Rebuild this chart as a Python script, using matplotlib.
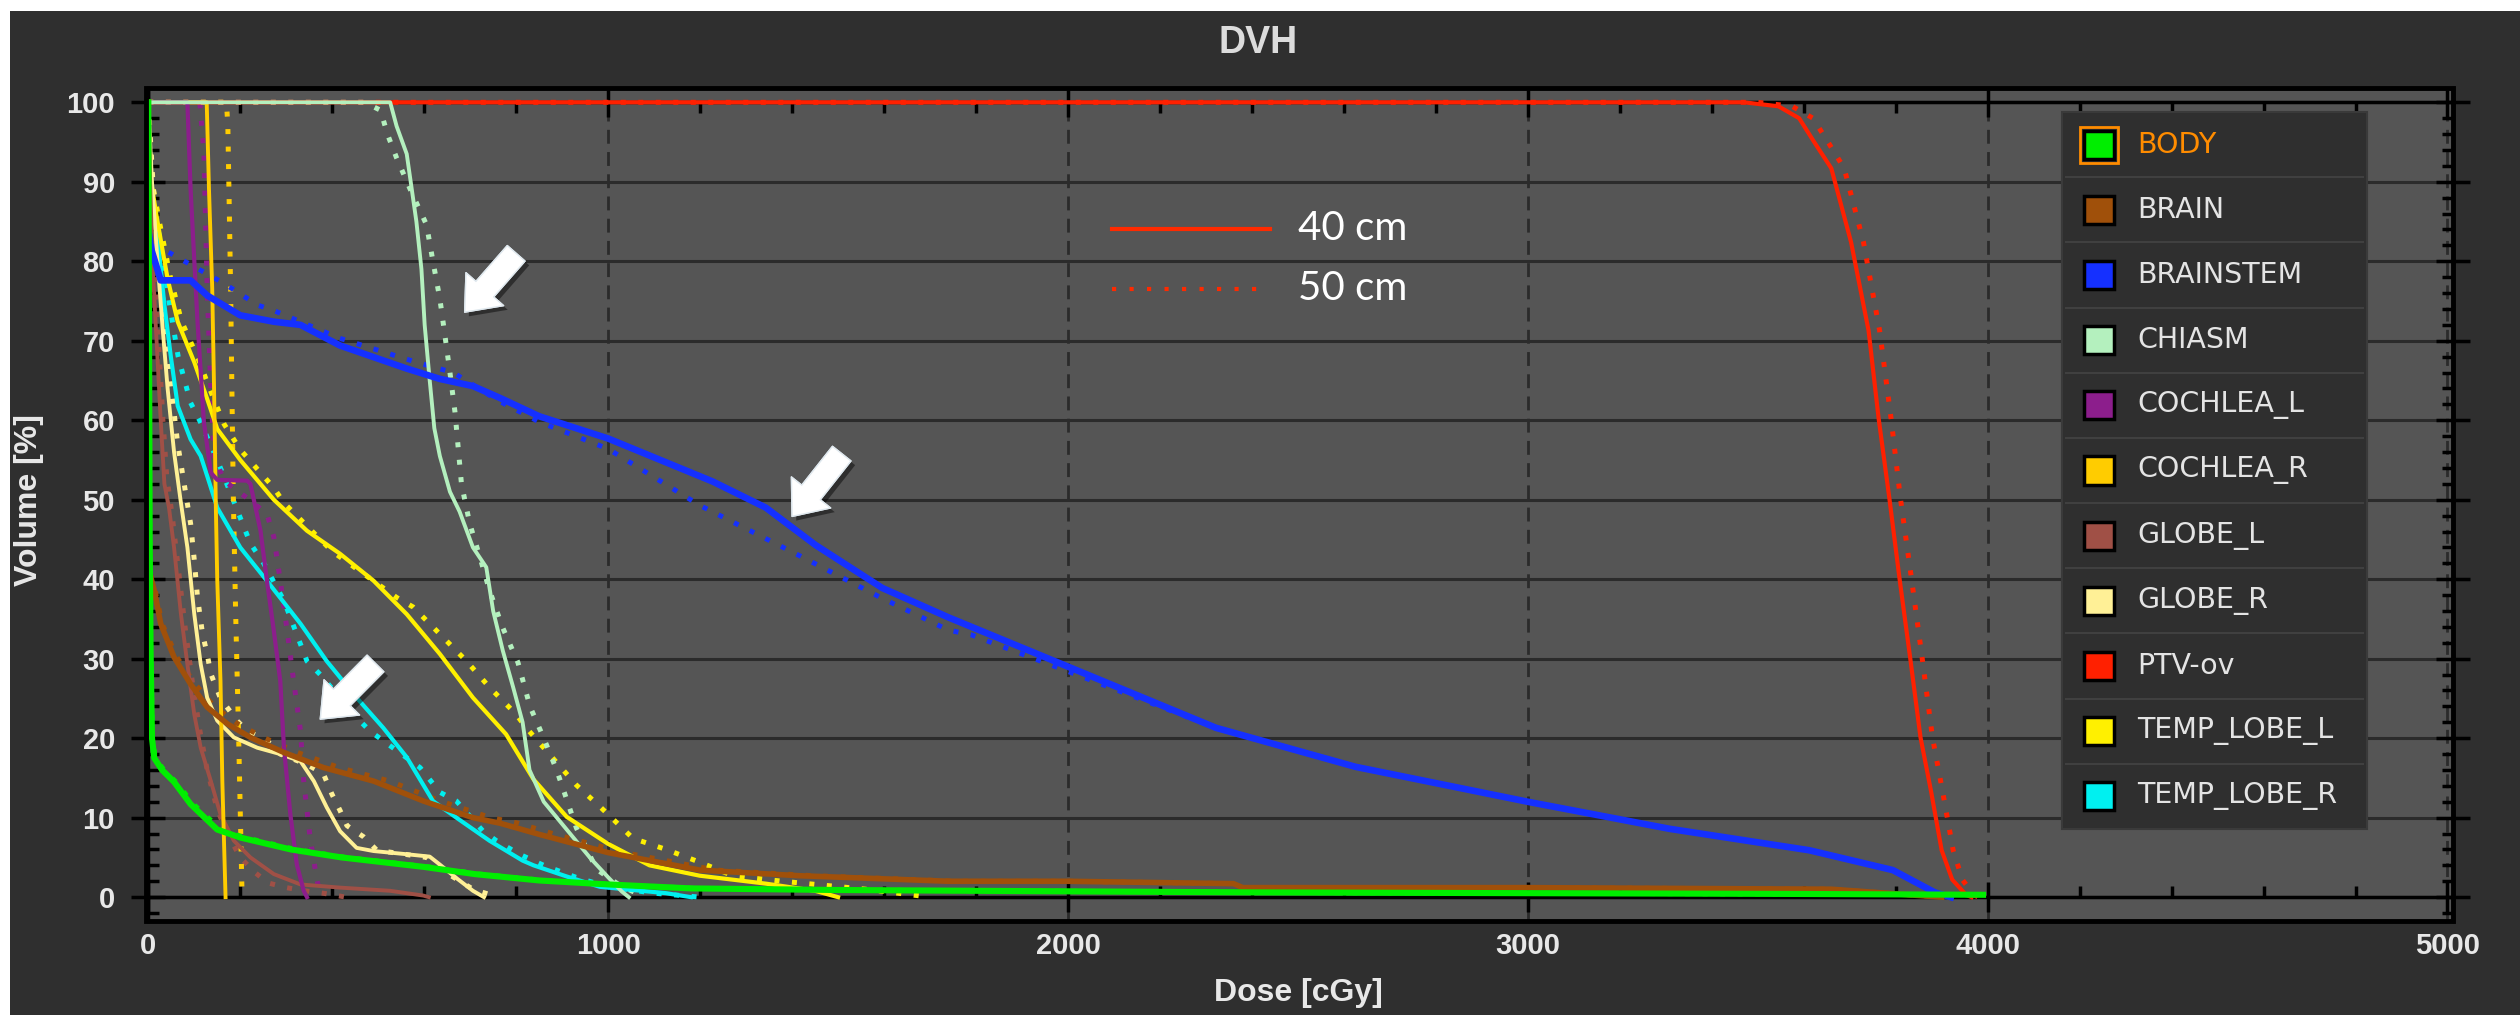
import matplotlib
matplotlib.use("Agg")
import matplotlib.pyplot as plt
from matplotlib.patches import Rectangle
from matplotlib.lines import Line2D
from matplotlib.ticker import MultipleLocator
import matplotlib.patheffects as pe

# ---------------- data (dose in cGy, volume in %) ----------------
structures = ["BODY", "BRAIN", "BRAINSTEM", "CHIASM", "COCHLEA_L", "COCHLEA_R",
              "GLOBE_L", "GLOBE_R", "PTV-ov", "TEMP_LOBE_L", "TEMP_LOBE_R"]
colors = ["#00ee00", "#a0500a", "#1530ff", "#b4f0be", "#8c1e8c", "#ffcc00",
          "#a05046", "#fff096", "#ff2000", "#fff000", "#00f0f0"]
linewidths = [4.4, 4.0, 4.8, 2.8, 3.0, 2.8, 2.8, 2.8, 3.0, 3.0, 3.0]

BODY_D40 = [0, 3, 5, 8, 13, 30, 56, 92, 150, 200, 310, 420, 600, 710, 850, 1000, 1180, 1500, 1800, 2400, 3000, 3600, 3990]
BODY_V40 = [100, 45, 31, 20, 17.5, 16, 14.5, 11.7, 8.5, 7.5, 6, 5, 3.8, 2.9, 2.1, 1.6, 1.1, 0.9, 0.8, 0.6, 0.5, 0.4, 0.3]
BODY_D50 = [0, 3, 5, 9, 15, 34, 60, 98, 158, 210, 320, 430, 610, 720, 860, 1010, 1190, 1510, 1810, 2400, 3000, 3600, 3990]
BODY_V50 = [100, 45, 31, 20, 17.5, 16, 14.5, 11.7, 8.5, 7.5, 6, 5, 3.8, 2.9, 2.1, 1.6, 1.1, 0.9, 0.8, 0.6, 0.5, 0.4, 0.3]

BRAIN_D40 = [0, 2, 13, 27, 56, 92, 128, 172, 222, 295, 381, 490, 598, 706, 765, 850, 1000, 1200, 1415, 1740, 2000, 2360, 2380, 3000, 3660, 3900]
BRAIN_V40 = [100, 41, 38.6, 34.4, 30.2, 26.8, 23.9, 21.8, 20.1, 18.2, 16.3, 14.6, 12.1, 10.0, 9.3, 7.9, 5.6, 3.4, 2.7, 2.0, 2.0, 1.7, 1.2, 1.2, 1.0, 0]
BRAIN_D50 = [0, 2, 15, 30, 62, 102, 145, 195, 250, 325, 415, 525, 635, 745, 805, 885, 1035, 1235, 1445, 1760, 2000, 2360, 2380, 3000, 3660, 3900]
BRAIN_V50 = [100, 41, 38.6, 34.4, 30.2, 26.8, 23.9, 21.8, 20.1, 18.2, 16.3, 14.6, 12.1, 10.0, 9.3, 7.9, 5.6, 3.4, 2.7, 2.0, 2.0, 1.7, 1.2, 1.2, 1.0, 0]

BRAINSTEM_D40 = [0, 6, 27, 92, 128, 200, 273, 331, 417, 562, 634, 706, 765, 850, 1000, 1227, 1343, 1451, 1596, 1740, 2000, 2322, 2625, 3000, 3308, 3612, 3794, 3885, 3920]
BRAINSTEM_V40 = [84, 81.6, 77.6, 77.6, 75.7, 73.2, 72.4, 72, 69.4, 66.5, 65.2, 64.3, 62.8, 60.5, 57.7, 52.3, 49, 44.3, 38.9, 35.2, 29, 21.3, 16.4, 12.0, 8.6, 5.9, 3.4, 0.6, 0]
BRAINSTEM_D50 = [0, 6, 42, 165, 237, 273, 417, 583, 663, 760, 850, 1000, 1199, 1415, 1596, 1740, 1790, 2000, 2322, 2625, 3000, 3308, 3612, 3794, 3885, 3930]
BRAINSTEM_V50 = [84, 82, 81.2, 77.2, 74.5, 73.8, 70.3, 67.3, 66, 62.5, 59.8, 56.4, 49.3, 43, 37.6, 33.6, 33, 28.4, 21.3, 16.4, 12.0, 8.6, 5.9, 3.4, 0.6, 0]

CHIASM_D40 = [0, 526, 540, 562, 583, 594, 601, 612, 622, 634, 656, 677, 706, 735, 750, 771, 793, 814, 829, 860, 910, 960, 1000, 1030, 1045]
CHIASM_V40 = [100, 100, 97, 93.5, 85, 79, 72, 65, 59, 55.5, 51, 48.5, 44, 41.5, 36, 31, 26.5, 22, 16, 12, 8.5, 5, 2.5, 0.7, 0]
CHIASM_D50 = [0, 470, 505, 520, 540, 570, 605, 619, 634, 645, 656, 667, 681, 699, 721, 742, 770, 804, 830, 860, 888, 931, 975, 1025, 1080]
CHIASM_V50 = [100, 100, 99, 96, 93, 89, 84.6, 80, 75.3, 70.7, 66, 61, 52, 47, 42.8, 38.6, 34, 29.5, 24, 20, 16, 8.7, 3.5, 1.5, 0]

COCHLEA_L_D40 = [0, 85, 92, 107, 121, 136, 150, 215, 222, 244, 258, 273, 287, 295, 309, 323, 338, 345]
COCHLEA_L_V40 = [100, 100, 89, 72.4, 59.7, 53.4, 52.5, 52.4, 52, 46.1, 39.8, 33.5, 27.2, 18.8, 10.4, 4.1, 0.8, 0]
COCHLEA_L_D50 = [0, 112, 121, 128, 136, 143, 165, 222, 258, 273, 287, 302, 316, 331, 338, 352, 367, 375]
COCHLEA_L_V50 = [100, 100, 93.5, 76.6, 64, 55.5, 52.4, 49.9, 48.2, 45.3, 39.8, 33.5, 27.2, 20.9, 14.6, 7.4, 2.1, 0]

COCHLEA_R_D40 = [0, 127, 132, 139, 143, 147, 150, 157, 161, 168]
COCHLEA_R_V40 = [100, 100, 89, 76.6, 64, 48.7, 39.8, 27.2, 14.6, 0]
COCHLEA_R_D50 = [0, 170, 173, 176, 179, 182, 185, 190, 197, 204]
COCHLEA_R_V50 = [100, 100, 97, 87, 76.6, 63, 50, 35.6, 18.8, 0]

GLOBE_L_D40 = [0, 4, 9, 18, 27, 35, 45, 56, 71, 85, 100, 114, 136, 157, 186, 222, 273, 331, 417, 526, 598, 610]
GLOBE_L_V40 = [100, 90, 80, 70, 60, 52, 49, 44, 35.6, 29.3, 23, 18.8, 14.6, 10.4, 7.1, 5, 2.9, 1.6, 1.2, 0.8, 0.2, 0]
GLOBE_L_D50 = [0, 5, 11, 22, 32, 40, 52, 64, 80, 96, 112, 128, 150, 172, 200, 230, 260, 300, 340, 380, 430]
GLOBE_L_V50 = [100, 90, 80, 70, 60, 53, 48, 42, 34, 27, 21, 16, 11, 8, 5, 3.2, 1.8, 1.2, 0.8, 0.5, 0]

GLOBE_R_D40 = [0, 8, 20, 32, 42, 56, 70, 85, 100, 114, 128, 150, 186, 237, 287, 331, 360, 388, 417, 453, 490, 562, 612, 634, 670, 706, 730]
GLOBE_R_V40 = [100, 90, 80, 71, 64, 56, 50, 44, 35.6, 29.3, 25.1, 22.2, 20.1, 18.8, 18, 17.1, 14.6, 11.3, 8.3, 6.2, 5.8, 5.4, 5.1, 4.1, 2.4, 0.8, 0]
GLOBE_R_D50 = [0, 10, 24, 38, 50, 64, 78, 92, 100, 107, 118, 128, 136, 157, 193, 215, 258, 287, 345, 381, 399, 417, 432, 468, 497, 605, 650, 706, 760]
GLOBE_R_V50 = [100, 90, 80, 71, 64, 57, 52, 47, 42.4, 37.7, 33.1, 30.6, 28.1, 25, 22.2, 20.9, 19.7, 18, 16.7, 15.5, 13, 10.9, 9, 7.6, 5.9, 5, 3, 1, 0]

PTV_D40 = [0, 3470, 3545, 3590, 3625, 3660, 3703, 3741, 3763, 3786, 3809, 3832, 3854, 3877, 3900, 3923, 3953, 3965]
PTV_V40 = [100, 100, 99.5, 98, 94.8, 91.7, 82.4, 71.3, 60.2, 50.3, 39.8, 29.9, 20.1, 13.3, 5.9, 2.2, 0.3, 0]
PTV_D50 = [0, 3500, 3575, 3620, 3655, 3688, 3730, 3765, 3790, 3810, 3835, 3858, 3880, 3902, 3925, 3945, 3970, 3980]
PTV_V50 = [100, 100, 99.5, 98, 94.8, 91.7, 82.4, 71.3, 60.2, 50.3, 39.8, 29.9, 20.1, 13.3, 5.9, 2.2, 0.3, 0]

TEMP_LOBE_L_D40 = [0, 2, 6, 20, 42, 64, 100, 128, 150, 200, 273, 345, 417, 490, 562, 634, 706, 778, 838, 910, 1000, 1090, 1199, 1343, 1450, 1500]
TEMP_LOBE_L_V40 = [100, 96, 90, 85, 77.8, 72.4, 67.3, 62.7, 58.9, 55, 50, 46.1, 43.2, 39.8, 35.6, 30.6, 25.1, 20.5, 14.8, 10.1, 6.7, 4, 2.7, 1.7, 0.8, 0]
TEMP_LOBE_L_D50 = [0, 3, 8, 24, 48, 72, 110, 140, 165, 200, 244, 273, 295, 400, 540, 576, 634, 692, 742, 800, 822, 881, 931, 982, 1054, 1126, 1199, 1271, 1379, 1560, 1700]
TEMP_LOBE_L_V50 = [100, 96, 90, 85, 78, 72.5, 67.5, 63, 59.5, 56.3, 53.4, 51.5, 49.6, 43.5, 37.7, 36.5, 33.1, 29.7, 26.4, 23, 21.3, 17.4, 14.1, 11.4, 7.4, 6, 4.4, 2.7, 2, 1, 0]

TEMP_LOBE_R_D40 = [0, 6, 20, 35, 49, 64, 92, 114, 128, 150, 200, 258, 331, 388, 453, 511, 562, 619, 670, 742, 814, 838, 910, 982, 1126, 1180]
TEMP_LOBE_R_V40 = [88, 87, 83, 74.5, 68, 61.8, 57.6, 55.5, 53, 49, 44, 39.8, 34.4, 29.7, 25.1, 21.3, 17.6, 12.1, 10, 7.1, 4.6, 4.0, 2.6, 1.3, 0.5, 0]
TEMP_LOBE_R_D50 = [0, 8, 25, 45, 65, 92, 114, 150, 179, 222, 251, 295, 345, 374, 453, 482, 591, 634, 670, 728, 757, 807, 860, 930, 1000, 1100, 1200]
TEMP_LOBE_R_V50 = [88, 87, 83, 75, 68, 62.2, 59.7, 55, 50.8, 44.5, 42, 37.3, 29.7, 28, 22.6, 20.9, 16.3, 13.2, 12.1, 8.3, 7.1, 5.4, 4, 2.5, 1.3, 0.5, 0]

curves_40 = {
    "BODY": (BODY_D40, BODY_V40), "BRAIN": (BRAIN_D40, BRAIN_V40),
    "BRAINSTEM": (BRAINSTEM_D40, BRAINSTEM_V40), "CHIASM": (CHIASM_D40, CHIASM_V40),
    "COCHLEA_L": (COCHLEA_L_D40, COCHLEA_L_V40), "COCHLEA_R": (COCHLEA_R_D40, COCHLEA_R_V40),
    "GLOBE_L": (GLOBE_L_D40, GLOBE_L_V40), "GLOBE_R": (GLOBE_R_D40, GLOBE_R_V40),
    "PTV-ov": (PTV_D40, PTV_V40), "TEMP_LOBE_L": (TEMP_LOBE_L_D40, TEMP_LOBE_L_V40),
    "TEMP_LOBE_R": (TEMP_LOBE_R_D40, TEMP_LOBE_R_V40),
}
curves_50 = {
    "BODY": (BODY_D50, BODY_V50), "BRAIN": (BRAIN_D50, BRAIN_V50),
    "BRAINSTEM": (BRAINSTEM_D50, BRAINSTEM_V50), "CHIASM": (CHIASM_D50, CHIASM_V50),
    "COCHLEA_L": (COCHLEA_L_D50, COCHLEA_L_V50), "COCHLEA_R": (COCHLEA_R_D50, COCHLEA_R_V50),
    "GLOBE_L": (GLOBE_L_D50, GLOBE_L_V50), "GLOBE_R": (GLOBE_R_D50, GLOBE_R_V50),
    "PTV-ov": (PTV_D50, PTV_V50), "TEMP_LOBE_L": (TEMP_LOBE_L_D50, TEMP_LOBE_L_V50),
    "TEMP_LOBE_R": (TEMP_LOBE_R_D50, TEMP_LOBE_R_V50),
}
draw_order = ["PTV-ov", "TEMP_LOBE_R", "TEMP_LOBE_L", "GLOBE_R", "GLOBE_L", "COCHLEA_R",
              "COCHLEA_L", "CHIASM", "BRAINSTEM", "BRAIN", "BODY"]

# arrows: (tail dose, tail vol) -> (head dose, head vol)
arrow_tails = [(800, 81.0), (1508, 55.8), (494, 29.4)]
arrow_heads = [(688, 73.6), (1400, 47.9), (374, 22.4)]

x_ticks = [0, 1000, 2000, 3000, 4000, 5000]
y_ticks = [0, 10, 20, 30, 40, 50, 60, 70, 80, 90, 100]

# ---------------- figure ----------------
W, H = 2520, 1015
def fx(px):
    return px / W
def fy(py):
    return 1 - py / H

fig = plt.figure(figsize=(25.2, 10.15), dpi=100, facecolor="white")
fig.add_artist(Rectangle((fx(10), 0), 1 - fx(10), fy(11), transform=fig.transFigure,
                         facecolor="#2f2f2f", edgecolor="none", zorder=-5))

ax = fig.add_axes([fx(146), fy(921), fx(2453) - fx(146), fy(88) - fy(921)])
ax.set_facecolor("#555555")
ax.set_xlim(-5, 5012)
ax.set_ylim(-3.0, 101.8)

ax.xaxis.set_major_locator(MultipleLocator(1000))
ax.xaxis.set_minor_locator(MultipleLocator(200))
ax.yaxis.set_major_locator(MultipleLocator(10))
ax.yaxis.set_minor_locator(MultipleLocator(2))
ax.set_xticks(x_ticks)
ax.set_yticks(y_ticks)

ax.set_axisbelow(True)
ax.grid(which="major", axis="y", color="#2b2b2b", lw=2.2, ls="-")
ax.grid(which="major", axis="x", color="#2b2b2b", lw=2.0, ls=(0, (5, 3)))

for name in ["left", "right", "top", "bottom"]:
    ax.spines[name].set_color("black")
    ax.spines[name].set_linewidth(2.5)
ax.spines["bottom"].set_position(("data", 0))
ax.spines["top"].set_position(("data", 100))
ax.spines["left"].set_position(("data", 0))
ax.add_patch(Rectangle((0, 0), 1, 1, transform=ax.transAxes, fill=False,
                       edgecolor="black", lw=3.5, zorder=6, clip_on=False))

ax.tick_params(axis="x", which="major", direction="inout", length=22, width=2.5,
               color="black", top=True, bottom=True, labelsize=21,
               labelcolor="#e8e8e8", pad=14)
ax.tick_params(axis="x", which="minor", direction="in", length=8, width=2.5,
               color="black", top=True, bottom=True)
ax.tick_params(axis="y", which="major", direction="inout", length=24, width=2.5,
               color="black", left=True, right=True, labelsize=21,
               labelcolor="#e8e8e8", pad=12)
ax.tick_params(axis="y", which="minor", direction="in", length=8, width=2.5,
               color="black", left=True, right=True)
for lab in ax.get_xticklabels() + ax.get_yticklabels():
    lab.set_fontfamily("Liberation Sans")
    lab.set_fontweight("bold")

# curves
for name in draw_order:
    i = structures.index(name)
    c = colors[i]
    lw = linewidths[i]
    d50, v50 = curves_50[name]
    d40, v40 = curves_40[name]
    ax.plot(d50, v50, color=c, lw=3.6, ls=(0, (1, 2.5)), dash_capstyle="butt", zorder=3)
    ax.plot(d40, v40, color=c, lw=lw, ls="-", zorder=3.1, solid_joinstyle="round")

# arrows
for (tx, ty), (hx, hy) in zip(arrow_tails, arrow_heads):
    ax.annotate("", xy=(hx, hy), xytext=(tx, ty),
                arrowprops=dict(arrowstyle="simple,head_length=1.1,head_width=1.8,tail_width=0.85",
                                fc="white", ec="#dfe8ee", lw=1, mutation_scale=20,
                                shrinkA=0, shrinkB=0,
                                path_effects=[pe.withSimplePatchShadow(offset=(3, -3), shadow_rgbFace="black", alpha=0.45),
                                              pe.Normal()]),
                zorder=7)

# title and axis labels
fig.text(fx(1258), fy(43), "DVH", ha="center", va="center", fontsize=27,
         fontweight="bold", color="#dcdcdc", family="Liberation Sans")
fig.text(fx(29), fy(500), "Volume [%]", ha="center", va="center", rotation=90,
         fontsize=23, fontweight="bold", color="#e8e8e8", family="Liberation Sans")
fig.text(fx(1298), fy(993), "Dose [cGy]", ha="center", va="center",
         fontsize=23, fontweight="bold", color="#e8e8e8", family="Liberation Sans")

# inset legend (40 cm / 50 cm)
fig.add_artist(Line2D([fx(1112), fx(1270)], [fy(229), fy(229)], transform=fig.transFigure,
                      color="#ff2a00", lw=3.0, zorder=8))
fig.add_artist(Line2D([fx(1112), fx(1260)], [fy(289), fy(289)], transform=fig.transFigure,
                      color="#ff2a00", lw=3.0, ls=(0, (1, 3.2)), dash_capstyle="butt", zorder=8))
fig.text(fx(1298), fy(229), "40 cm", ha="left", va="center", fontsize=29, color="white",
         family="Lato", zorder=8)
fig.text(fx(1298), fy(289), "50 cm", ha="left", va="center", fontsize=29, color="white",
         family="Lato", zorder=8)

# structure legend box
lx0, lx1, ly0, ly1 = 2062, 2367, 112, 829
row_h = (ly1 - ly0) / len(structures)
fig.add_artist(Rectangle((fx(lx0), fy(ly1)), fx(lx1) - fx(lx0), fy(ly0) - fy(ly1),
                         transform=fig.transFigure, facecolor="#2f2f2f",
                         edgecolor="#3a3a3a", lw=1.5, zorder=8))
for k, (name, c) in enumerate(zip(structures, colors)):
    cy = ly0 + row_h * (k + 0.5)
    if k > 0:
        yy = ly0 + row_h * k
        fig.add_artist(Line2D([fx(lx0 + 4), fx(lx1 - 4)], [fy(yy), fy(yy)],
                              transform=fig.transFigure, color="#404040", lw=1.5, zorder=9))
    if k == 0:
        fig.add_artist(Rectangle((fx(2080), fy(cy + 18)), fx(38), fy(0) - fy(36),
                                 transform=fig.transFigure, facecolor="none",
                                 edgecolor="#ff8c00", lw=2, zorder=9))
    fig.add_artist(Rectangle((fx(2084), fy(cy + 14)), fx(30), fy(0) - fy(28),
                             transform=fig.transFigure, facecolor=c,
                             edgecolor="black", lw=2.5, zorder=10))
    fig.text(fx(2137), fy(cy), name, ha="left", va="center", fontsize=20.5,
             color="#ff8c00" if k == 0 else "#e4e4e4", family="DejaVu Sans", zorder=10)

fig.savefig("out.png", dpi=100, facecolor=fig.get_facecolor())
